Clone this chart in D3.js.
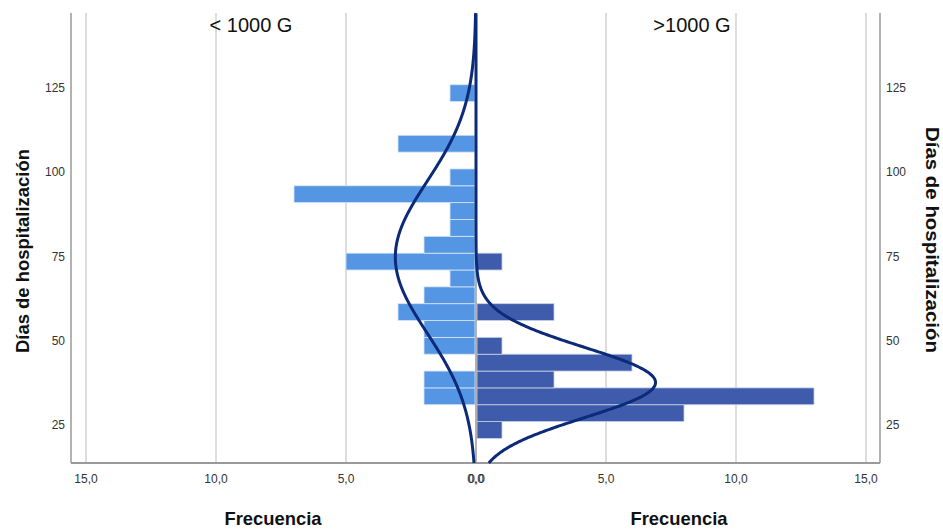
<!DOCTYPE html>
<html><head><meta charset="utf-8">
<script src="https://cdn.jsdelivr.net/npm/d3@7"></script>
<style>
html,body{margin:0;padding:0;background:#fff;}
svg{display:block;font-family:Arial,"Liberation Sans",sans-serif;}
</style></head>
<body>
<svg id="chart" width="943" height="529"></svg>
<script>
// ---- data ----
const binStarts = [21,26,31,36,41,46,51,56,61,66,71,76,81,86,91,96,101,106,111,116,121];
const binWidth = 5;
const countsLow  = [0,0,2,2,0,2,2,3,2,1,5,2,1,1,7,1,0,3,0,0,1];   // < 1000 G
const countsHigh = [1,8,13,3,6,1,0,3,0,0,1,0,0,0,0,0,0,0,0,0,0]; // >1000 G
const groupLabels = ["< 1000 G", ">1000 G"];
const fitLow  = {mean: 74.8, sd: 22.5, n: 35};
const fitHigh = {mean: 37.6, sd: 10.4, n: 36};
const xTicksLeft  = [-15,-10,-5,0];
const xTicksRight = [0,5,10,15];
const yTicks = [25,50,75,100,125];
const yTitle = "Días de hospitalización";
const xTitle = "Frecuencia";

// ---- layout ----
const svg = d3.select("#chart");
const pL = 71, pR = 880, pT = 13, pB = 463, pC = 476;
const x = d3.scaleLinear().domain([-(pC-pL)/26, (pR-pC)/26]).range([pL, pR]);
const y = d3.scaleLinear().domain([13.7, 147.3]).range([pB, pT]);

const fmt = v => d3.format(".1f")(Math.abs(v)).replace(".", ",");

// gridlines
const grid = [...xTicksLeft, ...xTicksRight].filter(v => v !== 0);
svg.append("g").selectAll("line").data(grid).join("line")
  .attr("x1", d => x(d)).attr("x2", d => x(d))
  .attr("y1", pT).attr("y2", pB)
  .attr("stroke", "#d2d2d2").attr("stroke-width", 1.5);

// bars
const binData = binStarts.map((b, i) => ({lo: b, hi: b + binWidth, low: countsLow[i], high: countsHigh[i]}));
svg.append("g").selectAll("rect").data(binData.filter(d => d.low > 0)).join("rect")
  .attr("x", d => x(-d.low)).attr("width", d => x(0) - x(-d.low) - 1)
  .attr("y", d => y(d.hi)).attr("height", d => y(d.lo) - y(d.hi))
  .attr("fill", "#5496e4").attr("stroke", "#d8e6f7").attr("stroke-width", 0.8);
svg.append("g").selectAll("rect").data(binData.filter(d => d.high > 0)).join("rect")
  .attr("x", x(0) + 1).attr("width", d => x(d.high) - x(0) - 1)
  .attr("y", d => y(d.hi)).attr("height", d => y(d.lo) - y(d.hi))
  .attr("fill", "#3f5bab").attr("stroke", "#c9d0e6").attr("stroke-width", 0.8);

// frame lines
const frame = svg.append("g").attr("stroke", "#9a9a9a").attr("stroke-width", 1.5);
frame.append("line").attr("x1", pL).attr("x2", pL).attr("y1", pT).attr("y2", pB);
frame.append("line").attr("x1", pR).attr("x2", pR).attr("y1", pT).attr("y2", pB);
frame.append("line").attr("x1", x(0)).attr("x2", x(0)).attr("y1", pT).attr("y2", pB);
frame.append("line").attr("x1", pL).attr("x2", pR).attr("y1", pB).attr("y2", pB).attr("stroke-width", 2);

// normal curves
const vals = d3.range(y.domain()[0], y.domain()[1] + 0.01, 0.25);
const dens = (f, v) => f.n * binWidth / (f.sd * Math.sqrt(2 * Math.PI)) * Math.exp(-0.5 * ((v - f.mean) / f.sd) ** 2);
const lineLow = d3.line().x(v => x(-dens(fitLow, v))).y(v => y(v)).curve(d3.curveBasis);
const lineHigh = d3.line().x(v => x(dens(fitHigh, v))).y(v => y(v)).curve(d3.curveBasis);
svg.append("path").attr("d", lineHigh(vals)).attr("fill", "none").attr("stroke", "#0b2a78").attr("stroke-width", 3);
svg.append("path").attr("d", lineLow(vals)).attr("fill", "none").attr("stroke", "#0b2a78").attr("stroke-width", 3);

// x tick labels
svg.append("g").selectAll("text").data([...xTicksLeft, ...xTicksRight]).join("text")
  .attr("x", (d, i) => x(d) + (d === 0 ? (i < xTicksLeft.length ? -0.5 : 0.5) : 0))
  .attr("y", 483).attr("text-anchor", "middle")
  .attr("font-size", 12).attr("fill", "#333")
  .text(d => fmt(d));

// y tick labels
svg.append("g").selectAll("text").data(yTicks).join("text")
  .attr("x", 65).attr("y", d => y(d) + 4).attr("text-anchor", "end")
  .attr("font-size", 12).attr("fill", "#333").text(d => d);
svg.append("g").selectAll("text").data(yTicks).join("text")
  .attr("x", 886).attr("y", d => y(d) + 4).attr("text-anchor", "start")
  .attr("font-size", 12).attr("fill", "#333").text(d => d);

// group labels
svg.append("text").attr("x", 251).attr("y", 32).attr("text-anchor", "middle")
  .attr("font-size", 20).attr("fill", "#111").text(groupLabels[0]);
svg.append("text").attr("x", 692).attr("y", 32).attr("text-anchor", "middle")
  .attr("font-size", 20).attr("fill", "#111").text(groupLabels[1]);

// x titles
[273, 679].forEach(cx => {
  svg.append("text").attr("x", cx).attr("y", 525).attr("text-anchor", "middle")
    .attr("font-size", 19).attr("font-weight", "bold").attr("fill", "#111")
    .attr("textLength", 97).attr("lengthAdjust", "spacingAndGlyphs").text(xTitle);
});

// y titles
svg.append("text").attr("transform", "translate(29,251) rotate(-90)")
  .attr("text-anchor", "middle").attr("font-size", 18).attr("font-weight", "bold").attr("fill", "#111")
  .attr("textLength", 204).attr("lengthAdjust", "spacingAndGlyphs").text(yTitle);
svg.append("text").attr("transform", "translate(926,240) rotate(90)")
  .attr("text-anchor", "middle").attr("font-size", 19).attr("font-weight", "bold").attr("fill", "#111")
  .attr("textLength", 226).attr("lengthAdjust", "spacingAndGlyphs").text(yTitle);
</script>
</body></html>
